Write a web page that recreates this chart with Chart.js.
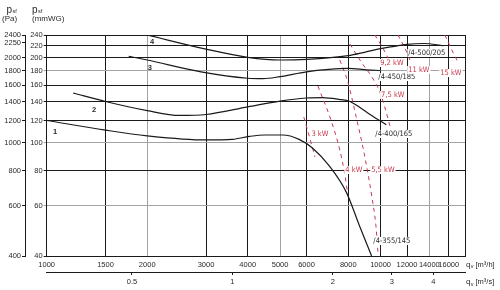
<!DOCTYPE html>
<html><head><meta charset="utf-8">
<script src="https://cdn.jsdelivr.net/npm/chart.js@4.4.1/dist/chart.umd.min.js"></script>
<style>html,body{margin:0;padding:0;background:#fff;}canvas{display:block}</style>
</head><body>
<canvas id="c" width="500" height="290"></canvas>
<script>
// ---------- DATA ----------
const flowTicks = [1000,1500,2000,3000,4000,5000,6000,8000,10000,12000,14000,16000];
const flowMax = 17900;
const flowTicksM3s = [0.5,1,2,3,4];
const presTicksMmWG = [40,60,80,100,120,140,160,180,200,220,240];
const presTicksPa = [400,600,800,1000,1200,1400,1600,1800,2000,2250,2400];

// fan curves (flow m3/h, pressure mmWG)
const fan1Flow = [1000,1500,2000,3000,3600,4050,4500,5100,5700,6250,7050,7900,8650,9400];
const fan1Pres = [120,111,106,102.5,103,105.5,106.7,106.7,103,96,82.5,67,51,40];
const fan2Flow = [1200,1500,2000,2500,3000,4000,5000,6000,6700,7500,8100,8700,9300,10400];
const fan2Pres = [150,140,130,125,126,134,140.5,144,144.5,142.5,140,133,126,116];
const fan3Flow = [1760,2000,2900,4000,4450,5000,6000,7000,8000,9100,10000];
const fan3Pres = [202,196,178,169,168.4,171.3,178,181.5,183,181,180];
const fan4Flow = [2000,3000,4000,5000,6000,8000,9000,10000,11000,12000,13500,15400];
const fan4Pres = [240,214,200.3,196,197,203,209,215,219,222.5,224,220];

// iso-power lines (flow m3/h, pressure mmWG)
const kw3Flow = [5890,6100,6360];
const kw3Pres = [123.4,106.7,89.3];
const kw4Flow = [6490,7100,7550,7820,7980];
const kw4Pres = [158.7,120.5,94.4,77.1,65.6];
const kw55Flow = [7550,7980,8490,8850,9160,9420,9680,9820];
const kw55Pres = [196,163.9,120.5,96.8,78.4,64.5,51.4,41.3];
const kw75Flow = [8090,8790,9420,9950,10310,10670];
const kw75Pres = [223,191.3,170.7,151.2,132.8,114.8];
const kw92Flow = [9610,10160,10520];
const kw92Pres = [240,216,199.2];
const kw11Flow = [11270,11820,12240];
const kw11Pres = [240,216,196];
const kw15Flow = [15580,16350,17030];
const kw15Pres = [240,212.5,193];

// labels (text, flow, pressure)
const fanNumText = ['1','2','3','4'];
const fanNumFlow = [1059,1386,2038,2067];
const fanNumPres = [110.2,131.7,185,228.5];
const modelText = ['/4-500/205','/4-450/185','/4-400/165','/4-355/145'];
const modelFlow = [13760,11190,10960,10810];
const modelPres = [207.4,170.7,107.6,45.2];
const kwText = ['9,2 kW','11 kW','15 kW','7,5 kW','3 kW','4 kW','5,5 kW'];
const kwFlow = [10810,13020,16240,10880,6580,8318,10160];
const kwPres = [191.3,180.8,176.3,147.6,107.6,80.3,80.3];

// ---------- STYLE ----------
const RED = '#c8374d';
const GRAY = '#a3a3a3';
const BLACK = '#1a1a1a';
const TXT = '#2a2a2a';
const tickFont = {family:'"Liberation Sans", Arimo, Arial, sans-serif', size:7.5};
const narrow = '"Liberation Sans Narrow", "Arial Narrow", "DejaVu Sans Condensed", sans-serif';

function pts(f,p){return f.map((v,i)=>({x:v,y:p[i]}));}
const datasets = [];
[[fan1Flow,fan1Pres],[fan2Flow,fan2Pres],[fan3Flow,fan3Pres],[fan4Flow,fan4Pres]].forEach(c=>{
  datasets.push({data:pts(c[0],c[1]),borderColor:BLACK,borderWidth:1.2,pointRadius:0,
    cubicInterpolationMode:'monotone',fill:false});
});
[[kw3Flow,kw3Pres],[kw4Flow,kw4Pres],[kw55Flow,kw55Pres],[kw75Flow,kw75Pres],
 [kw92Flow,kw92Pres],[kw11Flow,kw11Pres],[kw15Flow,kw15Pres]].forEach(c=>{
  datasets.push({data:pts(c[0],c[1]),borderColor:RED,borderWidth:1,borderDash:[4,4],pointRadius:0,
    cubicInterpolationMode:'monotone',fill:false});
});

const labelPlugin = {
  id:'labels',
  afterDatasetsDraw(chart){
    const ctx = chart.ctx, xs = chart.scales.x, ys = chart.scales.y;
    function put(text,f,p,font,color,bg){
      const x = xs.getPixelForValue(f), y = ys.getPixelForValue(p);
      ctx.font = font;
      const w = ctx.measureText(text).width;
      if(bg){ctx.fillStyle='#fff';ctx.fillRect(x-w/2-1,y-4,w+2,8);}
      ctx.fillStyle = color; ctx.textAlign='center'; ctx.textBaseline='middle';
      ctx.fillText(text,x,y+0.5);
    }
    ctx.save();
    fanNumText.forEach((t,i)=>put(t,fanNumFlow[i],fanNumPres[i],'bold 7.5px "Liberation Sans", sans-serif',TXT,false));
    modelText.forEach((t,i)=>put(t,modelFlow[i],modelPres[i],'7.5px '+narrow,TXT,true));
    kwText.forEach((t,i)=>put(t,kwFlow[i],kwPres[i],'7.5px '+narrow,RED,true));
    ctx.restore();
  },
  afterDraw(chart){
    const ctx = chart.ctx;
    ctx.save();
    ctx.fillStyle = TXT; ctx.textAlign='left'; ctx.textBaseline='alphabetic';
    const f = '"Liberation Sans", sans-serif';
    // axis titles top-left
    ctx.font = '10px '+f; ctx.fillText('p',6.5,12.5); ctx.fillText('p',32,12.5);
    ctx.font = '5.5px '+f; ctx.fillText('sf',12.5,13); ctx.fillText('sf',38,13);
    ctx.font = '8px '+f; ctx.fillText('(Pa)',2,20.5); ctx.fillText('(mmWG)',32,20.5);
    // flow titles at right
    [[266.5,'[m³/h]'],[284,'[m³/s]']].forEach(r=>{
      ctx.font = '8px '+f; ctx.fillText('q',466,r[0]);
      ctx.font = '5.5px '+f; ctx.fillText('v',470.8,r[0]+1.5);
      ctx.font = '7.5px '+f; ctx.fillText(r[1],475.5,r[0]);
    });
    ctx.restore();
  }
};

new Chart(document.getElementById('c'), {
  type:'line',
  data:{datasets},
  options:{
    responsive:false, animation:false, devicePixelRatio:1,
    layout:{padding:{top:35,right:35,left:0,bottom:0}},
    plugins:{legend:{display:false},tooltip:{enabled:false}},
    scales:{
      x:{type:'logarithmic',position:'bottom',min:1000,max:flowMax,
        afterBuildTicks:s=>{s.ticks=flowTicks.concat([flowMax]).map(v=>({value:v}));},
        afterFit:s=>{s.height=16;},
        grid:{color:c=>[2000,5000,14000].includes(c.tick&&c.tick.value)?GRAY:BLACK,lineWidth:1,drawTicks:false},
        border:{display:true,color:BLACK,width:1},
        ticks:{autoSkip:false,maxRotation:0,padding:4,font:tickFont,color:TXT,
          callback:v=>flowTicks.includes(v)?String(v):''}
      },
      x2:{type:'logarithmic',position:'bottom',weight:1,min:1000/3600,max:flowMax/3600,
        afterBuildTicks:s=>{s.ticks=flowTicksM3s.map(v=>({value:v}));},
        afterFit:s=>{s.height=18;},
        grid:{drawOnChartArea:false,drawTicks:true,tickLength:3,color:BLACK,lineWidth:1},
        border:{display:true,color:BLACK,width:1},
        ticks:{autoSkip:false,maxRotation:0,padding:2,font:tickFont,color:TXT,
          callback:v=>String(v)}
      },
      y:{type:'logarithmic',position:'left',min:40,max:240,
        afterBuildTicks:s=>{s.ticks=presTicksMmWG.map(v=>({value:v}));},
        afterFit:s=>{s.width=21.7;},
        grid:{color:c=>[60,100,180].includes(c.tick&&c.tick.value)?GRAY:BLACK,lineWidth:1,drawTicks:true,tickLength:3},
        border:{display:true,color:BLACK,width:1},
        ticks:{autoSkip:false,padding:1,font:tickFont,color:TXT,callback:v=>String(v)}
      },
      yPa:{type:'logarithmic',position:'left',weight:1,min:400,max:2400,
        afterBuildTicks:s=>{s.ticks=presTicksPa.map(v=>({value:v}));},
        afterFit:s=>{s.width=25;},
        grid:{drawOnChartArea:false,drawTicks:true,tickLength:3,color:BLACK,lineWidth:1},
        border:{display:true,color:BLACK,width:1},
        ticks:{autoSkip:false,padding:1,font:tickFont,color:TXT,callback:v=>String(v)}
      }
    }
  },
  plugins:[labelPlugin]
});
</script>
</body></html>
